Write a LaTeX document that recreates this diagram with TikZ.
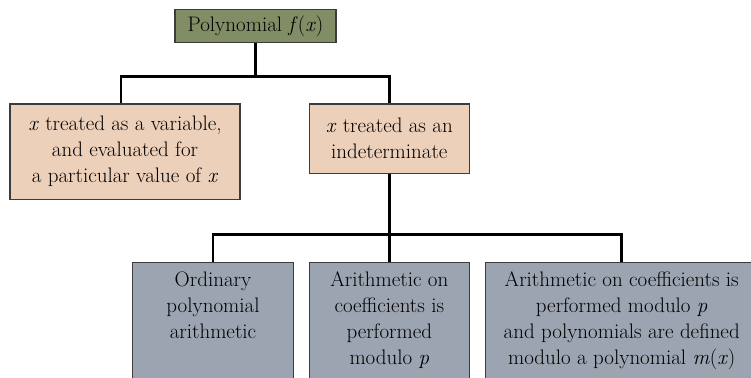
\documentclass[tikz,border=0pt]{standalone}
\definecolor{rootgreen}{RGB}{128,141,101}
\definecolor{peach}{RGB}{237,208,186}
\definecolor{slate}{RGB}{155,164,176}
\definecolor{edge}{RGB}{60,60,60}
\begin{document}
\begin{tikzpicture}[x=1pt,y=-1pt,
  box/.style={draw=edge, line width=1.2pt, inner sep=0pt, align=center,
    font=\fontsize{21}{26}\selectfont},
  txt/.style={inner sep=0pt, align=center, font=\fontsize{21}{26}\selectfont},
  conn/.style={line width=2.7pt, black}]
\useasboundingbox (0,0) rectangle (751,377);
\clip (0,0) rectangle (751,377);

\node[box, fill=rootgreen, minimum width=161pt, minimum height=33pt] (root) at (255.5,25.8) {Polynomial \textit{f}(\textit{x})};
\node[box, fill=peach, minimum width=230pt, minimum height=95.5pt] (left) at (125,151.7)
  {\textit{x} treated as a variable,\\and evaluated for\\a particular value of \textit{x}};
\node[box, fill=peach, minimum width=160pt, minimum height=69.3pt] (mid) at (389.3,138.7)
  {\textit{x} treated as an\\indeterminate};

\node[box, fill=slate, anchor=north, minimum width=160.6pt, minimum height=140pt] (b1) at (213,262) {};
\node[box, fill=slate, anchor=north, minimum width=160pt, minimum height=140pt] (b2) at (389.3,262) {};
\node[box, fill=slate, anchor=north, minimum width=272.7pt, minimum height=140pt] (b3) at (621.7,262) {};
\node[txt, anchor=north] (t1) at ([yshift=-9.5pt]b1.north) {Ordinary\\polynomial\\arithmetic};
\node[txt, anchor=north] (t2) at ([yshift=-9.5pt]b2.north) {Arithmetic on\\coefficients is\\performed\\modulo \textit{p}};
\node[txt, anchor=north] (t3) at ([yshift=-9.5pt]b3.north) {Arithmetic on coefficients is\\performed modulo \textit{p}\\and polynomials are defined\\modulo a polynomial \textit{m}(\textit{x})};

\coordinate (j1) at (255.5,76.7);
\coordinate (j2) at (389.3,234.3);
\draw[conn] (root.south) -- (j1);
\draw[conn] ([xshift=-4pt]left.north) |- (j1) -| (mid.north);
\draw[conn] (mid.south) -- (j2);
\draw[conn] (b1.north) |- (j2) -| (b3.north);
\draw[conn] (j2) -- (b2.north);
\end{tikzpicture}
\end{document}
